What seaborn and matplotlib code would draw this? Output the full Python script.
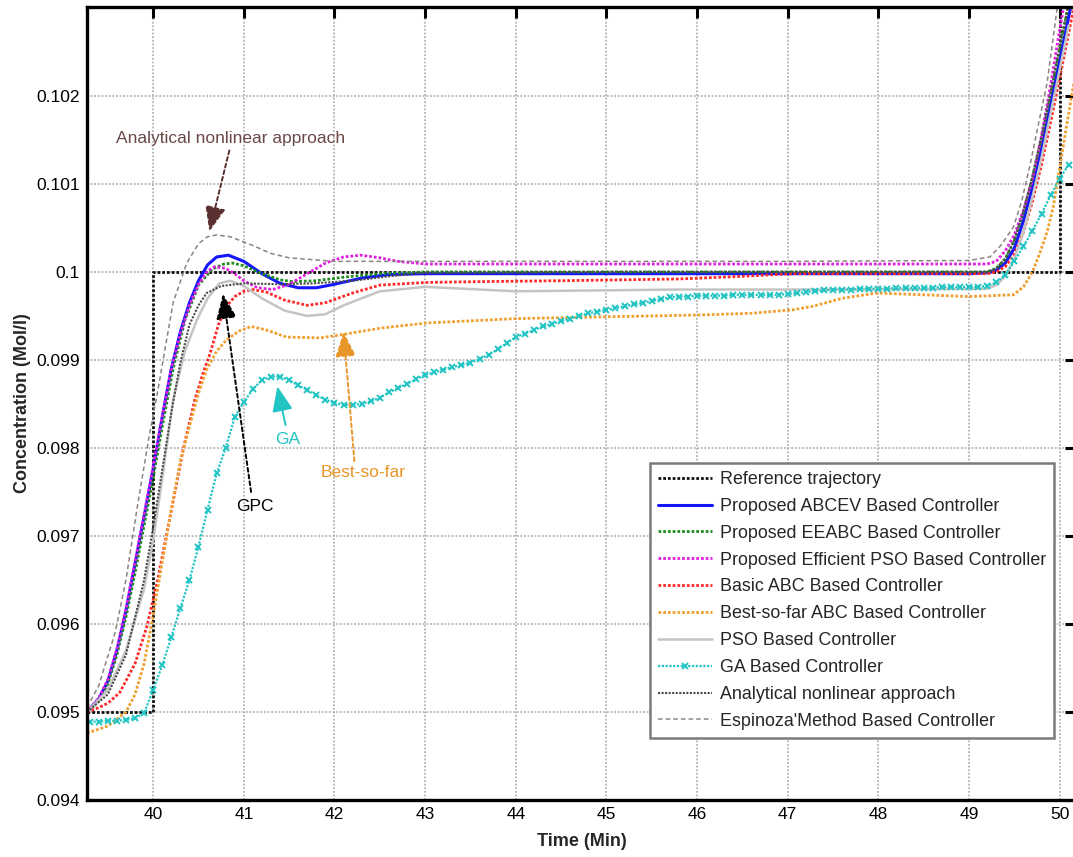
import numpy as np
import matplotlib
matplotlib.use("Agg")
import matplotlib.pyplot as plt
import seaborn as sns

# ---------------- data ----------------
ref_t = [39.27, 40.0, 40.0, 50.0, 50.0]
ref_y = [0.0950, 0.0950, 0.1000, 0.1000, 0.1040]

abcev_t = [39.27, 39.4, 39.5, 39.6, 39.7, 39.8, 39.9, 40.0, 40.1, 40.2, 40.3, 40.4, 40.5, 40.6,
           40.7, 40.83, 41.0, 41.2, 41.4, 41.6, 41.8, 42.0, 42.3, 42.6, 43.0, 45.0, 47.0, 49.0,
           49.2, 49.3, 49.4, 49.5, 49.6, 49.7, 49.8, 49.9, 50.0, 50.1, 50.2]
abcev_y = [0.09500, 0.09515, 0.09535, 0.09570, 0.09615, 0.09668, 0.09722, 0.09776, 0.09835,
           0.09890, 0.09932, 0.09965, 0.09990, 0.10008, 0.10017, 0.10019, 0.10012, 0.09998,
           0.09987, 0.09982, 0.09982, 0.09986, 0.09993, 0.09997, 0.09998, 0.09998, 0.09998,
           0.09998, 0.09999, 0.10002, 0.10010, 0.10027, 0.10058, 0.10096, 0.10140, 0.10190,
           0.10240, 0.10290, 0.10340]

eeabc_t = [39.27, 39.4, 39.5, 39.6, 39.7, 39.8, 39.9, 40.0, 40.1, 40.22, 40.35, 40.5, 40.65,
           40.78, 40.88, 41.0, 41.2, 41.4, 41.54, 41.8, 42.1, 42.5, 43.0, 45.0, 47.0, 49.0, 49.2,
           49.3, 49.4, 49.5, 49.6, 49.7, 49.8, 49.9, 50.0, 50.1]
eeabc_y = [0.09500, 0.09513, 0.09532, 0.09565, 0.09608, 0.09658, 0.09712, 0.09766, 0.09824,
           0.09890, 0.09945, 0.09985, 0.10003, 0.10009, 0.10010, 0.10007, 0.09998, 0.09991,
           0.09989, 0.09990, 0.09994, 0.09998, 0.10000, 0.10000, 0.10000, 0.10000, 0.10000,
           0.10004, 0.10015, 0.10036, 0.10068, 0.10108, 0.10153, 0.10203, 0.10255, 0.10305]

epso_t = [39.27, 39.4, 39.5, 39.6, 39.7, 39.8, 39.9, 40.0, 40.1, 40.2, 40.3, 40.4, 40.5, 40.6,
          40.68, 40.8, 40.9, 41.0, 41.15, 41.32, 41.5, 41.7, 41.9, 42.1, 42.29, 42.5, 42.7,
          43.0, 45.0, 47.0, 49.2, 49.3, 49.4, 49.5, 49.6, 49.7, 49.8, 49.9, 50.0, 50.1]
epso_y = [0.09500, 0.09516, 0.09537, 0.09572, 0.09618, 0.09671, 0.09725, 0.09779, 0.09836,
          0.09890, 0.09930, 0.09962, 0.09986, 0.10001, 0.10006, 0.10004, 0.09998, 0.09990,
          0.09982, 0.09980, 0.09986, 0.09998, 0.10010, 0.10017, 0.10019, 0.10016, 0.10012,
          0.10009, 0.10009, 0.10009, 0.10009, 0.10012, 0.10024, 0.10042, 0.10070, 0.10105,
          0.10155, 0.10212, 0.10275, 0.10335]

abc_t = [39.27, 39.4, 39.5, 39.63, 39.8, 39.93, 40.05, 40.15, 40.25, 40.33, 40.46, 40.55, 40.63,
         40.72, 40.81, 40.9, 41.0, 41.1, 41.25, 41.45, 41.7, 41.9, 42.2, 42.5, 43.0, 43.6, 44.5,
         45.8, 46.5, 47.06, 48.0, 49.2, 49.3, 49.4, 49.5, 49.6, 49.7, 49.8, 49.9, 50.0, 50.1, 50.2]
abc_y = [0.09500, 0.09505, 0.09510, 0.09522, 0.09555, 0.09597, 0.09650, 0.09703, 0.09755,
         0.09798, 0.09855, 0.09885, 0.09908, 0.09940, 0.09961, 0.09972, 0.09978, 0.09980,
         0.09977, 0.09968, 0.09962, 0.09965, 0.09976, 0.09985, 0.09988, 0.09989, 0.09990,
         0.09992, 0.09995, 0.09998, 0.09998, 0.09998, 0.10000, 0.10006, 0.10020, 0.10045,
         0.10080, 0.10122, 0.10170, 0.10220, 0.10272, 0.10322]

bsf_t = [39.27, 39.5, 39.7, 39.8, 39.9, 40.0, 40.1, 40.2, 40.3, 40.42, 40.5, 40.59, 40.7, 40.81,
         40.95, 41.08, 41.25, 41.47, 41.84, 42.1, 42.5, 43.02, 44.01, 45.0, 46.0, 46.6, 47.06,
         47.28, 47.6, 47.98, 48.5, 49.0, 49.49, 49.6, 49.7, 49.78, 49.86, 49.93, 50.02, 50.13,
         50.2]
bsf_y = [0.09476, 0.09484, 0.09500, 0.09520, 0.09555, 0.09610, 0.09670, 0.09730, 0.09785,
         0.09832, 0.09862, 0.09889, 0.09910, 0.09923, 0.09933, 0.09938, 0.09934, 0.09926,
         0.09925, 0.09929, 0.09936, 0.09942, 0.09947, 0.09949, 0.09951, 0.09953, 0.09957,
         0.09961, 0.09970, 0.09976, 0.09974, 0.09972, 0.09974, 0.09983, 0.10000, 0.10021,
         0.10045, 0.10074, 0.10131, 0.10199, 0.10240]

pso_t = [39.27, 39.5, 39.7, 39.9, 40.0, 40.1, 40.22, 40.35, 40.48, 40.6, 40.73, 40.85, 41.0,
         41.2, 41.45, 41.7, 41.9, 42.1, 42.5, 43.0, 43.4, 44.0, 45.8, 48.0, 49.2, 49.3, 49.4,
         49.5, 49.6, 49.7, 49.8, 49.9, 50.0, 50.1]
pso_y = [0.09500, 0.09525, 0.09570, 0.09640, 0.09695, 0.09765, 0.09855, 0.09910, 0.09945,
         0.09970, 0.09987, 0.09990, 0.09984, 0.09970, 0.09956, 0.09950, 0.09952, 0.09962,
         0.09978, 0.09983, 0.09981, 0.09978, 0.09980, 0.09980, 0.09981, 0.09985, 0.09995,
         0.10015, 0.10045, 0.10085, 0.10130, 0.10180, 0.10230, 0.10280]

ga_t = [39.3, 39.4, 39.5, 39.6, 39.7, 39.8, 39.9, 40.0, 40.1, 40.2, 40.3, 40.4, 40.5, 40.6, 40.7,
        40.8, 40.9, 41.0, 41.1, 41.2, 41.3, 41.4, 41.5, 41.6, 41.7, 41.8, 41.9, 42.0, 42.1, 42.2,
        42.3, 42.4, 42.5, 42.6, 42.7, 42.8, 42.9, 43.0, 43.1, 43.2, 43.3, 43.4, 43.5, 43.6, 43.7,
        43.8, 43.9, 44.0, 44.1, 44.2, 44.3, 44.4, 44.5, 44.6, 44.7, 44.8, 44.9, 45.0, 45.1, 45.2,
        45.3, 45.4, 45.5, 45.6, 45.7, 45.8, 45.9, 46.0, 46.1, 46.2, 46.3, 46.4, 46.5, 46.6, 46.7,
        46.8, 46.9, 47.0, 47.1, 47.2, 47.3, 47.4, 47.5, 47.6, 47.7, 47.8, 47.9, 48.0, 48.1, 48.2,
        48.3, 48.4, 48.5, 48.6, 48.7, 48.8, 48.9, 49.0, 49.1, 49.2, 49.3, 49.4, 49.5, 49.6, 49.7,
        49.8, 49.9, 50.0, 50.1]
ga_y = [0.09489, 0.09489, 0.09490, 0.09490, 0.09491, 0.09493, 0.09499, 0.09525, 0.09553, 0.09585,
        0.09618, 0.09650, 0.09688, 0.09730, 0.09771, 0.09800, 0.09835, 0.09852, 0.09867, 0.09877,
        0.09881, 0.09881, 0.09877, 0.09871, 0.09866, 0.09860, 0.09855, 0.09851, 0.09849, 0.09849,
        0.09850, 0.09853, 0.09857, 0.09863, 0.09868, 0.09873, 0.09878, 0.09883, 0.09886, 0.09889,
        0.09892, 0.09894, 0.09897, 0.09901, 0.09906, 0.09912, 0.09919, 0.09926, 0.09930, 0.09934,
        0.09938, 0.09941, 0.09944, 0.09947, 0.09950, 0.09953, 0.09955, 0.09957, 0.09959, 0.09961,
        0.09963, 0.09965, 0.09967, 0.09969, 0.09971, 0.09972, 0.09972, 0.09973, 0.09973, 0.09973,
        0.09973, 0.09974, 0.09974, 0.09974, 0.09974, 0.09974, 0.09974, 0.09975, 0.09976, 0.09977,
        0.09978, 0.09979, 0.09980, 0.09980, 0.09980, 0.09981, 0.09981, 0.09981, 0.09981, 0.09982,
        0.09982, 0.09982, 0.09982, 0.09982, 0.09983, 0.09983, 0.09983, 0.09983, 0.09983, 0.09984,
        0.09988, 0.09997, 0.10012, 0.10029, 0.10047, 0.10066, 0.10087, 0.10106, 0.10122]

anl_t = [39.27, 39.5, 39.7, 39.9, 40.0, 40.1, 40.2, 40.3, 40.4, 40.5, 40.59, 40.75, 41.0, 41.4,
         41.77, 42.2, 42.6, 43.0, 45.0, 47.0, 49.2, 49.3, 49.4, 49.5, 49.6, 49.7, 49.8, 49.9,
         50.0, 50.1]
anl_y = [0.09500, 0.09520, 0.09565, 0.09650, 0.09710, 0.09775, 0.09840, 0.09897, 0.09940,
         0.09962, 0.09976, 0.09984, 0.09987, 0.09986, 0.09987, 0.09990, 0.09995, 0.09999,
         0.10000, 0.10000, 0.10000, 0.10004, 0.10015, 0.10036, 0.10068, 0.10108, 0.10153,
         0.10203, 0.10255, 0.10305]

esp_t = [39.27, 39.4, 39.58, 39.7, 39.82, 39.95, 40.06, 40.11, 40.22, 40.37, 40.5, 40.6, 40.7,
         40.85, 41.1, 41.3, 41.5, 42.0, 43.0, 45.0, 47.0, 49.0, 49.23, 49.35, 49.49, 49.58,
         49.67, 49.76, 49.86, 49.97, 50.05]
esp_y = [0.09505, 0.09530, 0.09590, 0.09650, 0.09730, 0.09810, 0.09870, 0.09900, 0.09965,
         0.10010, 0.10032, 0.10040, 0.10042, 0.10040, 0.10030, 0.10021, 0.10016, 0.10012,
         0.10012, 0.10012, 0.10012, 0.10013, 0.10017, 0.10030, 0.10051, 0.10080, 0.10120,
         0.10165, 0.10214, 0.10298, 0.10360]

labels = ["Reference trajectory", "Proposed ABCEV Based Controller",
          "Proposed EEABC Based Controller", "Proposed Efficient PSO Based Controller",
          "Basic ABC Based Controller", "Best-so-far ABC Based Controller",
          "PSO Based Controller", "GA Based Controller", "Analytical nonlinear approach",
          "Espinoza'Method Based Controller"]

xticks = [40, 41, 42, 43, 44, 45, 46, 47, 48, 49, 50]
yticks = [0.094, 0.095, 0.096, 0.097, 0.098, 0.099, 0.100, 0.101, 0.102]
ytick_labels = ["0.094", "0.095", "0.096", "0.097", "0.098", "0.099", "0.1", "0.101", "0.102"]

# ---------------- style ----------------
sns.set_theme(style="white")
plt.rcParams['font.family'] = ['Liberation Sans', 'DejaVu Sans']

fig = plt.figure(figsize=(10.73, 8.57), dpi=100)
ax = fig.add_axes([0.08108, 0.06651, 0.9217, 0.92532])

dot = (0, (1.0, 0.7))
series = [
    (ref_t, ref_y, dict(color="#111111", linestyle=dot, linewidth=2.0)),
    (abcev_t, abcev_y, dict(color="#1515ff", linestyle="-", linewidth=2.2)),
    (eeabc_t, eeabc_y, dict(color="#1e8c1e", linestyle=dot, linewidth=2.0)),
    (epso_t, epso_y, dict(color="#e020e0", linestyle=dot, linewidth=2.0)),
    (abc_t, abc_y, dict(color="#ff2a2a", linestyle=dot, linewidth=2.0)),
    (bsf_t, bsf_y, dict(color="#f0a030", linestyle=dot, linewidth=2.0)),
    (pso_t, pso_y, dict(color="#c4c4c4", linestyle="-", linewidth=1.8)),
    (ga_t, ga_y, dict(color="#22c4c4", linestyle=dot, linewidth=1.6, marker="x",
                      markersize=5, markeredgewidth=1.4, markeredgecolor="#22c4c4")),
    (anl_t, anl_y, dict(color="#4a4a4a", linestyle=dot, linewidth=1.5)),
    (esp_t, esp_y, dict(color="#8e8282", linestyle=(0, (3, 2)), linewidth=1.1)),
]

for (t, y, kw), lab in zip(series, labels):
    sns.lineplot(x=t, y=y, ax=ax, estimator=None, sort=False, label=lab, **kw)

ax.set_xlim(39.27, 50.18)
ax.set_ylim(0.094, 0.10301)
ax.set_xticks(xticks)
ax.set_xticklabels([str(v) for v in xticks])
ax.set_yticks(yticks)
ax.set_yticklabels(ytick_labels)

ax.grid(True, color="#b4b4b4", linestyle=(0, (1, 1)), linewidth=1.3)
ax.set_axisbelow(True)
ax.tick_params(direction="in", length=8, width=2.2, top=True, right=True,
               labelsize=12.5, colors="black", pad=5)
for sp in ax.spines.values():
    sp.set_color("black")
    sp.set_linewidth(2.4)

ax.set_xlabel("Time (Min)", fontsize=13, fontweight="bold", labelpad=8)
ax.set_ylabel("Concentration (Mol/l)", fontsize=13, fontweight="bold", labelpad=4)

# ---------------- annotations ----------------
def arrow(tip, start, color, ls):
    ax.annotate("", xy=tip, xytext=start,
                arrowprops=dict(arrowstyle="-|>,head_length=1.1,head_width=0.45",
                                color=color, linewidth=1.4, linestyle=ls,
                                mutation_scale=14, shrinkA=0, shrinkB=0))

ax.text(40.85, 0.10152, "Analytical nonlinear approach", color="#6a4848", fontsize=12.5,
        ha="center", va="center")
arrow((40.62, 0.10046), (40.84, 0.10138), "#5a3030", (0, (2, 1.5)))

ax.text(41.12, 0.09733, "GPC", color="black", fontsize=12.5, ha="center", va="center")
arrow((40.77, 0.09975), (41.08, 0.09750), "black", (0, (2, 1.5)))

ax.text(41.48, 0.09810, "GA", color="#22c4c4", fontsize=12.5, ha="center", va="center")
arrow((41.37, 0.09870), (41.46, 0.09826), "#22c4c4", "-")

ax.text(42.32, 0.09772, "Best-so-far", color="#e8962a", fontsize=12.5, ha="center", va="center")
arrow((42.10, 0.09932), (42.22, 0.09785), "#e8962a", (0, (2, 1.5)))

leg = ax.legend(loc="upper left", bbox_to_anchor=(0.569, 0.425), borderaxespad=0.0,
                fontsize=12.9, frameon=True, fancybox=False, edgecolor="#7a7a7a",
                framealpha=1, handlelength=3.05, handletextpad=0.4, labelspacing=0.55,
                borderpad=0.45, numpoints=1)
leg.get_frame().set_linewidth(1.8)

fig.savefig("out.png", dpi=100)
